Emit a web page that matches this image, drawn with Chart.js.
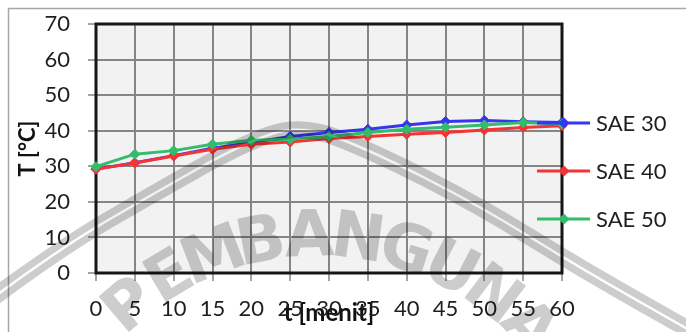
<!DOCTYPE html>
<html>
<head>
<meta charset="utf-8">
<script src="https://cdn.jsdelivr.net/npm/chart.js@4/dist/chart.umd.min.js"></script>
<style>
  html, body { margin: 0; padding: 0; background: #fff; }
  #wrap { width: 686px; height: 332px; }
</style>
</head>
<body>
<div id="wrap"><canvas id="c" width="686" height="332"></canvas></div>
<script>
// Time axis (minutes) and measured temperatures (°C)
const minutes = ['0', '5', '10', '15', '20', '25', '30', '35', '40', '45', '50', '55', '60'];
const sae30 = [29.2, 31.0, 33.0, 35.1, 36.7, 38.4, 39.5, 40.4, 41.6, 42.6, 42.9, 42.5, 42.3];
const sae40 = [29.2, 30.9, 32.9, 34.8, 36.2, 36.8, 37.8, 38.4, 39.0, 39.5, 40.2, 40.9, 41.4];
const sae50 = [29.9, 33.4, 34.4, 36.2, 37.3, 37.6, 38.4, 39.5, 40.4, 41.0, 41.6, 42.3, 41.9];
const seriesNames = ['SAE 30', 'SAE 40', 'SAE 50'];
const tempTicks = [0, 10, 20, 30, 40, 50, 60, 70];
const xTitle = 't [menit]';
const yTitle = 'T [°C]';
const watermarkText = 'PEMBANGUNAN';

const colors = ['#3535f2', '#f43434', '#33bc6b'];
const FONT = 'Lato, "Open Sans", sans-serif';
const TEXT = '#1e1e1e';

// Page frame, plot background and thick plot border
const framePlugin = {
  id: 'frame',
  beforeDraw(chart) {
    const { ctx, chartArea: a, width, height } = chart;
    ctx.save();
    ctx.fillStyle = '#fff';
    ctx.fillRect(0, 0, width, height);
    ctx.strokeStyle = '#a6a6a6';
    ctx.lineWidth = 1.5;
    ctx.beginPath();
    ctx.moveTo(8.5, height);
    ctx.lineTo(8.5, 8.5);
    ctx.lineTo(width, 8.5);
    ctx.stroke();
    ctx.fillStyle = '#f2f2f2';
    ctx.fillRect(a.left, a.top, a.right - a.left, a.bottom - a.top);
    ctx.restore();
  },
  beforeDatasetsDraw(chart) {
    const { ctx, chartArea: a } = chart;
    ctx.save();
    ctx.strokeStyle = '#161616';
    ctx.lineWidth = 3;
    ctx.strokeRect(a.left, a.top, a.right - a.left, a.bottom - a.top);
    ctx.restore();
  }
};

// Legend on the right: line + diamond marker + label
const sideLegend = {
  id: 'sideLegend',
  afterDatasetsDraw(chart) {
    const { ctx, chartArea: a } = chart;
    ctx.save();
    chart.data.datasets.forEach((ds, i) => {
      const y = 123 + i * 48;
      const x0 = a.right - 25, x1 = a.right + 28, xm = a.right + 2;
      ctx.strokeStyle = ds.borderColor;
      ctx.lineWidth = 3;
      ctx.beginPath();
      ctx.moveTo(x0, y);
      ctx.lineTo(x1, y);
      ctx.stroke();
      ctx.fillStyle = ds.borderColor;
      ctx.beginPath();
      ctx.moveTo(xm, y - 5.5);
      ctx.lineTo(xm + 5.5, y);
      ctx.lineTo(xm, y + 5.5);
      ctx.lineTo(xm - 5.5, y);
      ctx.closePath();
      ctx.fill();
      ctx.fillStyle = TEXT;
      ctx.font = '22px ' + FONT;
      ctx.textBaseline = 'middle';
      ctx.textAlign = 'left';
      ctx.fillText(ds.label, x1 + 6, y + 1);
    });
    ctx.restore();
  }
};

// Faint stamp printed over the whole chart
const stampPlugin = {
  id: 'stamp',
  afterDraw(chart) {
    const { ctx, width, height } = chart;
    const off = document.createElement('canvas');
    off.width = width;
    off.height = height;
    const o = off.getContext('2d');
    const tone = '#cdcdcd';
    const pts = [[-10, 300], [60, 248], [160, 190], [240, 145], [300, 124], [370, 150], [480, 206], [580, 268], [700, 336]];
    const bandPath = () => {
      o.beginPath();
      o.moveTo(pts[0][0], pts[0][1]);
      for (let i = 1; i < pts.length - 1; i++) {
        const mx = (pts[i][0] + pts[i + 1][0]) / 2;
        const my = (pts[i][1] + pts[i + 1][1]) / 2;
        o.quadraticCurveTo(pts[i][0], pts[i][1], mx, my);
      }
      const last = pts[pts.length - 1];
      o.lineTo(last[0], last[1]);
    };
    o.strokeStyle = tone;
    o.lineJoin = 'round';
    o.lineWidth = 17;
    bandPath();
    o.stroke();
    o.globalCompositeOperation = 'destination-out';
    o.lineWidth = 2.5;
    bandPath();
    o.stroke();
    o.globalCompositeOperation = 'source-over';

    // letters set along an arc
    const cx = 318, cy = 526, r = 287;
    const start = -40.5, step = 9.7;
    o.fillStyle = tone;
    o.font = 'bold 64px "DejaVu Sans"';
    o.textAlign = 'center';
    o.textBaseline = 'middle';
    [...watermarkText].forEach((ch, i) => {
      const t = (start + i * step) * Math.PI / 180;
      o.save();
      o.translate(cx + r * Math.sin(t), cy - r * Math.cos(t));
      o.rotate(t);
      o.fillText(ch, 0, 0);
      o.restore();
    });

    ctx.save();
    ctx.globalCompositeOperation = 'multiply';
    ctx.drawImage(off, 0, 0);
    ctx.restore();
  }
};

const makeSet = (label, data, color, order) => ({
  label, data, order,
  borderColor: color,
  backgroundColor: color,
  borderWidth: 3,
  pointStyle: 'rectRot',
  pointRadius: 5,
  pointBorderWidth: 1,
  pointBackgroundColor: color,
  pointBorderColor: color,
  tension: 0,
  clip: false
});

new Chart(document.getElementById('c'), {
  type: 'line',
  data: {
    labels: minutes,
    datasets: [
      makeSet(seriesNames[0], sae30, colors[0], 2),
      makeSet(seriesNames[1], sae40, colors[1], 1),
      makeSet(seriesNames[2], sae50, colors[2], 0)
    ]
  },
  options: {
    responsive: false,
    animation: false,
    devicePixelRatio: 1,
    layout: { padding: { top: 24, right: 124, bottom: 0, left: 0 } },
    plugins: { legend: { display: false }, tooltip: { enabled: false } },
    scales: {
      x: {
        type: 'category',
        offset: false,
        border: { display: false },
        grid: { color: '#858585', lineWidth: 2, tickLength: 8, tickColor: '#858585', tickWidth: 1.5 },
        ticks: { autoSkip: false, maxRotation: 0, padding: 15, color: TEXT, font: { family: FONT, size: 22 } },
        title: { display: true, text: xTitle, color: '#111', font: { family: FONT, size: 24, weight: 'bold' }, padding: { top: 0, bottom: 4 } },
        afterFit(s) { s.height = 59; }
      },
      y: {
        min: tempTicks[0],
        max: tempTicks[tempTicks.length - 1],
        border: { display: false },
        afterBuildTicks(s) { s.ticks = tempTicks.map(v => ({ value: v })); },
        grid: { color: '#858585', lineWidth: 2, tickLength: 8, tickColor: '#858585', tickWidth: 1.5 },
        ticks: { padding: 18, color: TEXT, font: { family: FONT, size: 22 } },
        title: { display: true, text: yTitle, color: '#111', font: { family: FONT, size: 22, weight: 'bold' }, padding: { top: 15, bottom: 0 } },
        afterFit(s) { s.width = 96; s.paddingTop = 0; s.paddingBottom = 0; }
      }
    }
  },
  plugins: [framePlugin, sideLegend, stampPlugin]
});
</script>
</body>
</html>
